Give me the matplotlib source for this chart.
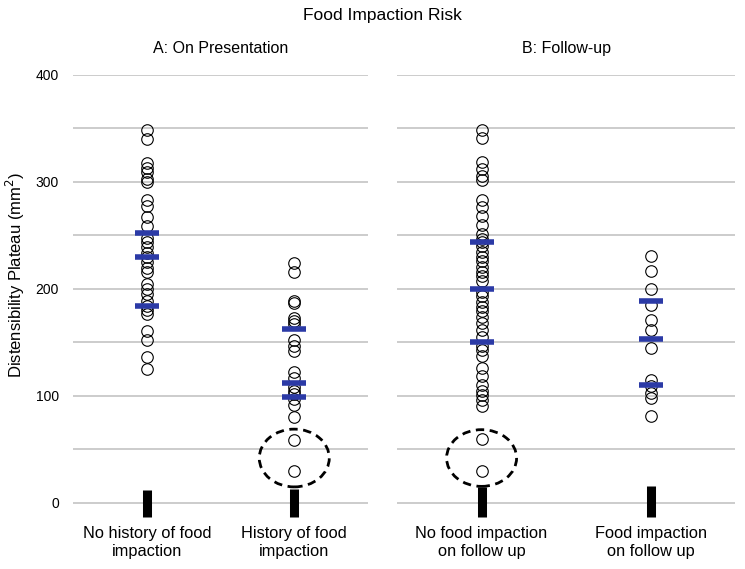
import numpy as np
import matplotlib
matplotlib.use('Agg')
from matplotlib import pyplot as plt
from matplotlib.patches import Ellipse

plt.rcParams['font.family'] = ['Liberation Sans', 'DejaVu Sans']

# data
no_history = [349, 340, 318, 313, 309, 303, 300, 283, 278, 267, 259, 248, 244, 239,
              234, 230, 225, 220, 216, 205, 200, 195, 189, 184, 180, 177, 161, 152,
              136, 125]
history = [224, 216, 189, 187, 173, 170, 167, 152, 147, 142, 122, 117, 108, 105,
           102, 97, 92, 80, 59, 30]
no_fi_follow = [349, 341, 319, 312, 306, 302, 283, 277, 268, 260, 251, 247, 244, 240,
                235, 230, 226, 221, 216, 212, 207, 197, 193, 188, 183, 179, 174, 168,
                162, 155, 147, 143, 137, 126, 119, 110, 105, 101, 96, 91, 60, 30]
fi_follow = [231, 217, 200, 185, 171, 162, 145, 115, 109, 103, 98, 81]

quart_a = [[184, 230, 252], [99, 112, 163]]
quart_b = [[150, 200, 244], [110, 153, 189]]

bar_bottom = [[-13, -13], [-13, -13]]
bar_top = [[12, 13], [15, 16]]

# dashed rings: which group, centre y, height (data units)
ring_a = (1, 42, 54)
ring_b = (0, 42, 53)

labels_a = ['No history of food\nimpaction', 'History of food\nimpaction']
labels_b = ['No food impaction\non follow up', 'Food impaction\non follow up']

fig = plt.figure(figsize=(7.45, 5.69), dpi=100)
ax1 = fig.add_axes([0.098, 0.0747, 0.396, 0.7935])
ax2 = fig.add_axes([0.533, 0.0747, 0.4537, 0.7935])

blue = '#2b3aa6'
panels = [(ax1, [no_history, history], quart_a, bar_bottom[0], bar_top[0], ring_a,
           labels_a, 'A: On Presentation'),
          (ax2, [no_fi_follow, fi_follow], quart_b, bar_bottom[1], bar_top[1], ring_b,
           labels_b, 'B: Follow-up')]

for ax, groups, quarts, bb, bt, ring, labs, ttl in panels:
    xpos = [0.5, 1.5]
    for x, vals, q in zip(xpos, groups, quarts):
        ax.plot([x] * len(vals), vals, 'o', ms=8.3, mfc='none', mec='black', mew=0.8)
        ax.plot([x] * len(q), q, '_', ms=17, mew=4, color=blue)
    ax.vlines(xpos, bb, bt, colors='black', linewidth=6.5, capstyle='butt')
    # ring width fixed in pixels (~70 px)
    bbox = ax.get_position()
    w = 70 / (bbox.width * 745) * 2
    ax.add_patch(Ellipse((xpos[ring[0]], ring[1]), w, ring[2], fill=False,
                         linestyle=(0, (3, 2)), linewidth=2, edgecolor='black'))
    ax.set_xlim(0, 2)
    ax.set_ylim(-22, 400)
    ax.set_yticks(np.arange(0, 401, 100))
    ax.set_yticks(np.arange(0, 401, 50), minor=True)
    ax.grid(axis='y', which='both', color='#c4c4c4', linewidth=1.2)
    ax.set_axisbelow(True)
    for s in ax.spines.values():
        s.set_visible(False)
    ax.set_xticks(xpos)
    ax.set_xticklabels(labs, fontsize=11.8, linespacing=1.2)
    ax.tick_params(axis='x', length=0, pad=0)
    ax.tick_params(axis='y', which='both', length=0, pad=10, labelsize=10)
    ax.set_title(ttl, fontsize=11.5, pad=16)

ax2.set_yticklabels([])
fig.text(0.021, 0.517, 'Distensibility Plateau (mm$^2$)', rotation=90,
         ha='center', va='center', fontsize=12)
fig.text(0.514, 0.972, 'Food Impaction Risk', ha='center', va='center', fontsize=12.5)

plt.savefig('out.png', dpi=100)
